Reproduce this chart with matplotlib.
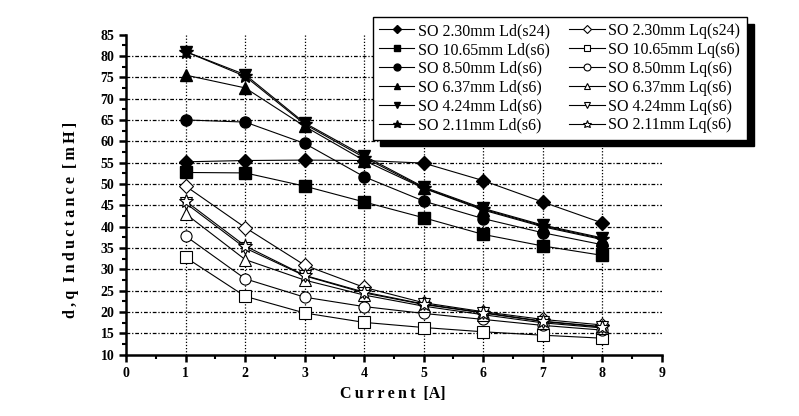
import matplotlib
matplotlib.use("Agg")
import matplotlib.pyplot as plt
from matplotlib.ticker import MultipleLocator

plt.rcParams['font.family'] = ['Liberation Serif', 'DejaVu Serif']

current = [1, 2, 3, 4, 5, 6, 7, 8]

# d-axis inductance [mH]
ld_230_s24 = [55.2, 55.5, 55.6, 55.5, 54.9, 50.8, 45.8, 40.9]
ld_1065 = [52.7, 52.6, 49.5, 45.8, 42.1, 38.2, 35.5, 33.3]
ld_850 = [65.0, 64.5, 59.5, 51.7, 46.0, 41.9, 38.6, 35.8]
ld_637 = [75.5, 72.5, 63.5, 55.5, 49.0, 43.9, 40.0, 37.0]
ld_424 = [81.0, 75.6, 64.3, 56.6, 49.3, 44.3, 40.4, 37.4]
ld_211 = [81.0, 75.2, 64.0, 56.2, 49.1, 44.1, 40.2, 37.2]

# q-axis inductance [mH]
lq_230_s24 = [49.5, 39.8, 31.0, 25.8, 22.2, 20.1, 18.3, 17.0]
lq_1065 = [32.8, 23.7, 19.8, 17.6, 16.4, 15.4, 14.6, 13.9]
lq_850 = [37.8, 27.8, 23.5, 21.3, 19.7, 18.3, 16.9, 15.8]
lq_637 = [43.0, 32.3, 27.5, 24.0, 21.4, 19.4, 17.5, 16.3]
lq_424 = [45.5, 35.0, 28.5, 24.5, 21.8, 19.8, 17.8, 16.5]
lq_211 = [46.0, 35.5, 28.6, 24.7, 21.9, 19.9, 17.9, 16.6]

ld_series = [
    ('SO 2.30mm Ld(s24)', ld_230_s24, 'D'),
    ('SO 10.65mm Ld(s6)', ld_1065, 's'),
    ('SO 8.50mm Ld(s6)', ld_850, 'o'),
    ('SO 6.37mm Ld(s6)', ld_637, '^'),
    ('SO 4.24mm Ld(s6)', ld_424, 'v'),
    ('SO 2.11mm Ld(s6)', ld_211, '*'),
]
lq_series = [
    ('SO 2.30mm Lq(s24)', lq_230_s24, 'D'),
    ('SO 10.65mm Lq(s6)', lq_1065, 's'),
    ('SO 8.50mm Lq(s6)', lq_850, 'o'),
    ('SO 6.37mm Lq(s6)', lq_637, '^'),
    ('SO 4.24mm Lq(s6)', lq_424, 'v'),
    ('SO 2.11mm Lq(s6)', lq_211, '*'),
]


def marker_size(mk):
    if mk == '*':
        return 10
    if mk == 'D':
        return 7
    return 8


fig = plt.figure(figsize=(7.99, 4.16), dpi=100)
ax = fig.add_axes([0.158, 0.147, 0.670, 0.770])

handles = []
for label, vals, mk in ld_series:
    h, = ax.plot(current, vals, '-', color='black', lw=0.8, marker=mk,
                 markersize=marker_size(mk), markerfacecolor='black',
                 markeredgecolor='black', label=label, zorder=3)
    handles.append(h)
for label, vals, mk in lq_series:
    h, = ax.plot(current, vals, '-', color='black', lw=0.8, marker=mk,
                 markersize=marker_size(mk), markerfacecolor='white',
                 markeredgecolor='black', markeredgewidth=0.8,
                 label=label, zorder=3)
    handles.append(h)

ax.set_xlim(0, 9)
ax.set_ylim(10, 85)
ax.xaxis.set_major_locator(MultipleLocator(1))
ax.xaxis.set_minor_locator(MultipleLocator(0.5))
ax.yaxis.set_major_locator(MultipleLocator(5))
ax.yaxis.set_minor_locator(MultipleLocator(2.5))

# grid: dotted verticals, dash-dot horizontals
for xv in range(1, 9):
    ax.axvline(xv, color='black', lw=0.9, linestyle=(0, (1, 1.5)), zorder=1)
for yv in range(15, 85, 5):
    ax.axhline(yv, color='black', lw=0.9, linestyle=(0, (3, 1.5, 1, 1.5)), zorder=1)

for s in ['top', 'right']:
    ax.spines[s].set_visible(False)
for s in ['left', 'bottom']:
    ax.spines[s].set_linewidth(1.8)

ax.tick_params(which='major', direction='out', length=5, width=1.8, labelsize=10)
ax.tick_params(which='minor', direction='out', length=3, width=1.5)
for lbl in ax.get_xticklabels() + ax.get_yticklabels():
    lbl.set_fontweight('bold')

thin = '\u2009'
ax.set_xlabel(thin.join('Current') + '  [A]', fontsize=11.5, fontweight='bold')
ax.xaxis.set_label_coords(0.498, -0.098)
ylab = '  '.join(thin.join(w) for w in ['d,q', 'Inductance', '[mH]'])
ax.set_ylabel(ylab, fontsize=11.5, fontweight='bold')
ax.yaxis.set_label_coords(-0.088, 0.42)

leg = fig.legend(handles=handles, ncol=2, loc='upper left',
                 bbox_to_anchor=(373 / 799, 1 - 17 / 416), borderaxespad=0,
                 fontsize=11.5, frameon=True, fancybox=False, edgecolor='black',
                 shadow={'color': 'black', 'alpha': 1, 'ox': 5, 'oy': -5},
                 handlelength=2.2, handletextpad=0.25, columnspacing=1.2,
                 labelspacing=0.18, borderpad=0.38, markerscale=0.62)
leg.get_frame().set_linewidth(1.0)

fig.savefig('out.png', dpi=100)
